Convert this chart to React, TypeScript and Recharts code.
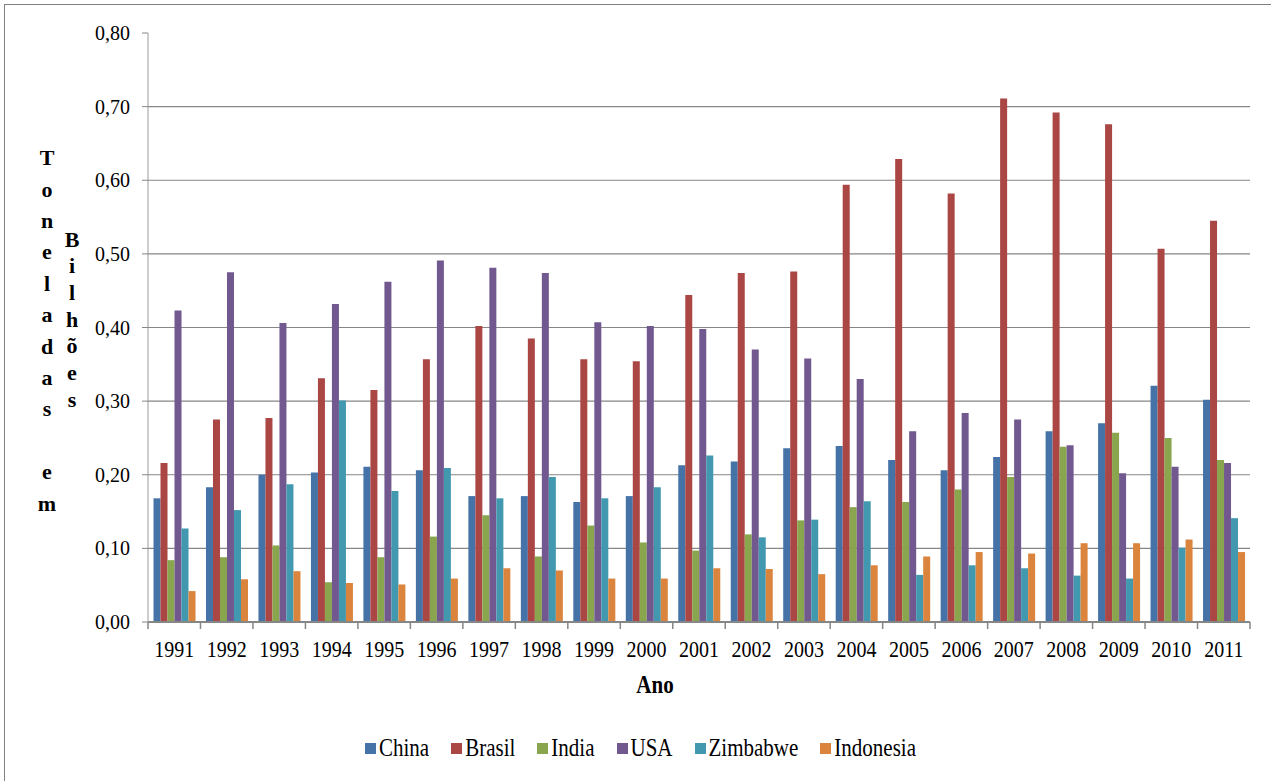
import { Bar, BarChart, CartesianGrid, XAxis, YAxis } from "recharts";

const years = [
  "1991", "1992", "1993", "1994", "1995", "1996", "1997", "1998", "1999", "2000", "2001",
  "2002", "2003", "2004", "2005", "2006", "2007", "2008", "2009", "2010", "2011",
];

const china = [0.168, 0.183, 0.2, 0.203, 0.211, 0.206, 0.171, 0.171, 0.163, 0.171, 0.213, 0.218, 0.236, 0.239, 0.22, 0.206, 0.224, 0.259, 0.27, 0.321, 0.302];
const brasil = [0.216, 0.275, 0.277, 0.331, 0.315, 0.357, 0.402, 0.385, 0.357, 0.354, 0.444, 0.474, 0.476, 0.594, 0.629, 0.582, 0.711, 0.692, 0.676, 0.507, 0.545];
const india = [0.084, 0.088, 0.104, 0.054, 0.088, 0.116, 0.145, 0.089, 0.131, 0.108, 0.097, 0.119, 0.138, 0.156, 0.163, 0.18, 0.197, 0.238, 0.257, 0.25, 0.22];
const usa = [0.423, 0.475, 0.406, 0.432, 0.462, 0.491, 0.481, 0.474, 0.407, 0.402, 0.398, 0.37, 0.358, 0.33, 0.259, 0.284, 0.275, 0.24, 0.202, 0.211, 0.216];
const zimbabwe = [0.127, 0.152, 0.187, 0.301, 0.178, 0.209, 0.168, 0.197, 0.168, 0.183, 0.226, 0.115, 0.139, 0.164, 0.064, 0.077, 0.073, 0.063, 0.059, 0.101, 0.141];
const indonesia = [0.042, 0.058, 0.069, 0.053, 0.051, 0.059, 0.073, 0.07, 0.059, 0.059, 0.073, 0.072, 0.065, 0.077, 0.089, 0.095, 0.093, 0.107, 0.107, 0.112, 0.095];

const yTicks = [0, 0.1, 0.2, 0.3, 0.4, 0.5, 0.6, 0.7, 0.8];
const gridValues = [0.1, 0.2, 0.3, 0.4, 0.5, 0.6, 0.7];

const series = [
  { key: "China", values: china, color: "#4572A7" },
  { key: "Brasil", values: brasil, color: "#AA4643" },
  { key: "India", values: india, color: "#89A54E" },
  { key: "USA", values: usa, color: "#71588F" },
  { key: "Zimbabwe", values: zimbabwe, color: "#4198AF" },
  { key: "Indonesia", values: indonesia, color: "#DB843D" },
];

const data = years.map((year, i) => {
  const row: Record<string, string | number> = { year };
  series.forEach((s) => {
    row[s.key] = s.values[i];
  });
  return row;
});

const SERIF = '"Liberation Serif", "DejaVu Serif", "Times New Roman", serif';
const AXIS_GRAY = "#868686";

// year label at band centre, tick marks on the band edges (Excel style)
function YearTick(props: any) {
  const { x, y, payload, index } = props;
  const half = payload?.offset || 26.2;
  return (
    <g>
      <line x1={x - half} x2={x - half} y1={y} y2={y + 7} stroke={AXIS_GRAY} strokeWidth={1.5} />
      {index === years.length - 1 && (
        <line x1={x + half} x2={x + half} y1={y} y2={y + 7} stroke={AXIS_GRAY} strokeWidth={1.5} />
      )}
      <text
        transform={`translate(${x},${y + 35}) scale(1,1.2)`}
        textAnchor="middle"
        style={{ fontFamily: SERIF, fontSize: 20 }}
        fill="#000"
      >
        {payload.value}
      </text>
    </g>
  );
}

function StackedLetters({ text, left, top, step }: { text: string; left: number; top: number; step: number }) {
  return (
    <div style={{ position: "absolute", left: left - 15, top: top - step / 2, width: 30 }}>
      {text.split("").map((ch, i) => (
        <div
          key={i}
          style={{
            height: step,
            lineHeight: `${step}px`,
            textAlign: "center",
            fontFamily: SERIF,
            fontWeight: "bold",
            fontSize: 22,
            color: "#000",
          }}
        >
          {ch === " " ? "\u00a0" : ch}
        </div>
      ))}
    </div>
  );
}

export default function App() {
  return (
    <div
      style={{
        position: "absolute",
        left: 0,
        top: 0,
        width: 1271,
        height: 781,
        overflow: "hidden",
        background: "#fff",
        fontFamily: SERIF,
      }}
    >
      <div
        style={{
          position: "absolute",
          left: 4,
          top: 4,
          width: 1300,
          height: 800,
          borderTop: "1px solid #808080",
          borderLeft: "1px solid #808080",
        }}
      />

      <div style={{ position: "absolute", left: 0, top: 0 }}>
        <BarChart
          width={1271}
          height={781}
          data={data}
          margin={{ top: 33, right: 21, bottom: 109, left: 0 }}
          barCategoryGap="10.5%"
          barGap={0}
        >
          <CartesianGrid
            vertical={false}
            horizontalValues={gridValues}
            stroke={AXIS_GRAY}
            strokeWidth={1.2}
          />
          <XAxis
            dataKey="year"
            height={50}
            tickLine={false}
            tickSize={0}
            tickMargin={0}
            interval={0}
            axisLine={{ stroke: AXIS_GRAY, strokeWidth: 2 }}
            tick={<YearTick />}
          />
          <YAxis
            width={148}
            domain={[0, 0.8]}
            ticks={yTicks}
            interval={0}
            tickSize={6}
            tickMargin={12}
            tickLine={{ stroke: AXIS_GRAY }}
            axisLine={{ stroke: "#9a9a9a" }}
            tickFormatter={(v: number) => v.toFixed(2).replace(".", ",")}
            tick={{ fill: "#000", fontSize: 20, style: { fontFamily: SERIF } }}
          />
          {series.map((s) => (
            <Bar key={s.key} dataKey={s.key} fill={s.color} isAnimationActive={false} />
          ))}
        </BarChart>
      </div>

      {/* vertical axis title */}
      <StackedLetters text="Toneladas em" left={47} top={158} step={31.4} />
      <StackedLetters text="Bilhões" left={72} top={240} step={26.7} />

      <div
        style={{
          position: "absolute",
          left: 605,
          top: 672,
          width: 100,
          textAlign: "center",
          fontWeight: "bold",
          fontSize: 21,
          lineHeight: "26px",
          transform: "scaleY(1.2)",
        }}
      >
        Ano
      </div>

      {/* legend */}
      <div
        style={{
          position: "absolute",
          left: 365,
          top: 735,
          display: "flex",
          alignItems: "center",
          gap: 22,
        }}
      >
        {series.map((s) => (
          <div key={s.key} style={{ display: "flex", alignItems: "center", gap: 3 }}>
            <div style={{ width: 11, height: 11, background: s.color }} />
            <span style={{ fontSize: 21, lineHeight: "26px", display: "inline-block", transform: "scaleY(1.15)" }}>
              {s.key}
            </span>
          </div>
        ))}
      </div>
    </div>
  );
}
